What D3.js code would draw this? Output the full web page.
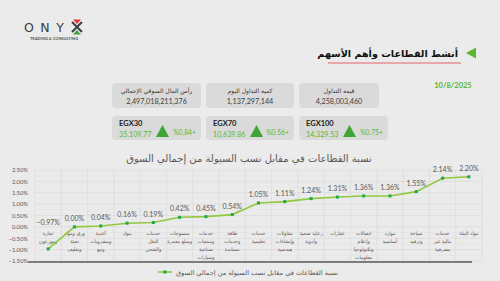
<!DOCTYPE html>
<html>
<head>
<meta charset="utf-8">
<script src="https://cdn.jsdelivr.net/npm/d3@7"></script>
<style>
  body { margin: 0; background: #ebebeb; }
  svg { display: block; font-family: Lato, "DejaVu Sans", sans-serif; }
</style>
</head>
<body>
<div id="chart"></div>
<script>
// sectors, left to right
const sectors = [
  ["تجارة", "وموزعون"],
  ["ورق ومواد", "تعبئة", "وتغليف"],
  ["أغذية", "ومشروبات", "وتبغ"],
  ["بنوك"],
  ["خدمات", "النقل", "والشحن"],
  ["منسوجات", "وسلع معمرة"],
  ["خدمات", "ومنتجات", "صناعية", "وسيارات"],
  ["طاقة", "وخدمات", "مساندة"],
  ["خدمات", "تعليمية"],
  ["مقاولات", "وإنشاءات", "هندسية"],
  ["رعاية صحية", "وأدوية"],
  ["عقارات"],
  ["اتصالات", "وإعلام", "وتكنولوجيا", "معلومات"],
  ["موارد", "أساسية"],
  ["سياحة", "وترفيه"],
  ["خدمات", "مالية غير", "مصرفية"],
  ["مواد البناء"]
];
const shares = [-0.97, 0.00, 0.04, 0.16, 0.19, 0.42, 0.45, 0.54, 1.05, 1.11, 1.24, 1.31, 1.36, 1.36, 1.55, 2.14, 2.20];
const yTicks = [-1.5, -1.0, -0.5, 0, 0.5, 1.0, 1.5, 2.0, 2.5];

const marketLabels = ["رأس المال السوقي الإجمالي", "كمية التداول اليوم", "قيمة التداول"];
const marketValues = ["2,497,018,211,376", "1,137,297,144", "4,258,003,460"];
const indexNames = ["EGX30", "EGX70", "EGX100"];
const indexValues = ["35,109.77", "10,639.86", "14,329.53"];
const indexChanges = ["%0.84+", "%0.56+", "%0.75+"];
const reportDate = "10/8/2025";

const W = 500, H = 281;
const green = "#5cb82e";
const svg = d3.select("#chart").append("svg").attr("width", W).attr("height", H);
svg.append("rect").attr("width", W).attr("height", H).attr("fill", "#ebebeb");

// logo
const logo = svg.append("g");
logo.append("text").attr("x", 24).attr("y", 32).attr("font-size", 12.5).attr("letter-spacing", 6.5)
  .attr("fill", "#3c3c3c").attr("font-family", "'DejaVu Sans'").text("ONY");
logo.append("path").attr("d", "M72,22 L82,32 M82,22 L72,32").attr("stroke", "#3c3c3c").attr("stroke-width", 2);
logo.append("path").attr("d", "M73,19.5 L81,19.5 L77,24 Z").attr("fill", "#e53935");
logo.append("path").attr("d", "M73,34.5 L81,34.5 L77,30 Z").attr("fill", "#43a047");
logo.append("text").attr("x", 54).attr("y", 40).attr("text-anchor", "middle").attr("font-size", 4)
  .attr("font-weight", "bold").attr("fill", "#555").text("TRADING & CONSULTING");

// header
svg.append("text").attr("x", 458).attr("y", 57).attr("text-anchor", "end").attr("font-size", 9.6)
  .attr("font-weight", "bold").attr("fill", "#111").attr("font-family", "'DejaVu Sans'")
  .text("أنشط القطاعات وأهم الأسهم");
svg.append("path").attr("d", "M466,53 L476,47.5 L476,58.5 Z").attr("fill", green);
svg.append("line").attr("x1", 328).attr("x2", 461).attr("y1", 63).attr("y2", 63)
  .attr("stroke", "#e0404a").attr("stroke-width", 0.8);

svg.append("text").attr("x", 453).attr("y", 88).attr("text-anchor", "middle").attr("font-size", 7.5)
  .attr("font-weight", "bold").attr("fill", green).text(reportDate);

// boxes
const boxX = [112, 206, 299];
const boxW = [89, 88, 80];
const boxW2 = [89, 88, 89];
marketLabels.forEach((lab, i) => {
  const g = svg.append("g").attr("transform", `translate(${boxX[i]},83)`);
  g.append("rect").attr("width", boxW[i]).attr("height", 25).attr("rx", 4).attr("fill", "#dadada");
  g.append("text").attr("x", boxW[i] / 2).attr("y", 10).attr("text-anchor", "middle").attr("font-size", 6)
    .attr("fill", "#333").attr("font-family", "'DejaVu Sans'").text(lab);
  g.append("text").attr("x", boxW[i] / 2).attr("y", 21).attr("text-anchor", "middle").attr("font-size", 7.2)
    .attr("fill", "#404040").text(marketValues[i]);
});
indexNames.forEach((nm, i) => {
  const g = svg.append("g").attr("transform", `translate(${boxX[i]},116)`);
  g.append("rect").attr("width", boxW2[i]).attr("height", 24).attr("rx", 4).attr("fill", "#dadada");
  g.append("text").attr("x", 7).attr("y", 10).attr("font-size", 7.5).attr("font-weight", "bold")
    .attr("fill", "#222").text(nm);
  g.append("text").attr("x", 7).attr("y", 21).attr("font-size", 7.2).attr("fill", green).text(indexValues[i]);
  g.append("path").attr("d", "M44,21 L50.5,9 L57,21 Z").attr("fill", "#3fa535");
  g.append("text").attr("x", boxW2[i] - 5).attr("y", 18.5).attr("text-anchor", "end").attr("font-size", 6.8)
    .attr("fill", green).text(indexChanges[i]);
});

// chart
const plot = { left: 35, right: 482, top: 170, bottom: 261 };
const x = d3.scaleBand().domain(d3.range(shares.length)).range([plot.left, plot.right]);
const y = d3.scaleLinear().domain([-1.5, 2.5]).range([plot.bottom, plot.top]);

svg.append("text").attr("x", 249).attr("y", 162).attr("text-anchor", "middle").attr("font-size", 10)
  .attr("fill", "#595959").attr("font-family", "'DejaVu Sans'").text("نسبة القطاعات في مقابل نسب السيولة من إجمالي السوق");

const grid = svg.append("g");
grid.selectAll(".minor").data(d3.range(-1.25, 2.5, 0.5)).join("line")
  .attr("x1", plot.left).attr("x2", plot.right).attr("y1", d => y(d)).attr("y2", d => y(d))
  .attr("stroke", "#e0e0e0").attr("stroke-width", 0.5);
grid.selectAll(".major").data(yTicks).join("line")
  .attr("x1", plot.left).attr("x2", plot.right).attr("y1", d => y(d)).attr("y2", d => y(d))
  .attr("stroke", "#d6d6d6").attr("stroke-width", 0.6);
grid.selectAll(".vert").data(d3.range(shares.length + 1)).join("line")
  .attr("x1", d => plot.left + d * x.step()).attr("x2", d => plot.left + d * x.step())
  .attr("y1", plot.top).attr("y2", plot.bottom)
  .attr("stroke", "#d6d6d6").attr("stroke-width", 0.6);

const yAxis = d3.axisLeft(y).tickValues(yTicks).tickSize(0).tickFormat(d => d3.format(".2f")(d) + "%");
const ya = svg.append("g").attr("transform", `translate(${plot.left - 4},0)`).call(yAxis);
ya.select(".domain").remove();
ya.selectAll("text").attr("font-size", 5.8).attr("fill", "#595959").attr("font-family", "Lato");

svg.append("line").attr("x1", 28).attr("x2", 472).attr("y1", plot.bottom + 1).attr("y2", plot.bottom + 1)
  .attr("stroke", "#595959").attr("stroke-width", 1.6);

// category labels
const cat = svg.append("g");
sectors.forEach((lines, i) => {
  const t = cat.append("text").attr("text-anchor", "middle").attr("font-size", 4.8)
    .attr("fill", "#595959").attr("font-family", "'DejaVu Sans'");
  lines.forEach((ln, j) => {
    t.append("tspan").attr("x", x(i) + x.bandwidth() / 2).attr("y", y(0) + 8.5 + j * 8).text(ln);
  });
});

const cx = (d, i) => x(i) + x.bandwidth() / 2;
svg.append("path").datum(shares)
  .attr("d", d3.line().x(cx).y(d => y(d)))
  .attr("fill", "none").attr("stroke", "#92c83e").attr("stroke-width", 1.6);
svg.selectAll(".pt").data(shares).join("rect")
  .attr("x", (d, i) => cx(d, i) - 1.5).attr("y", d => y(d) - 1.5)
  .attr("width", 3).attr("height", 3).attr("fill", "#1fa64a");
svg.selectAll(".lbl").data(shares).join("text")
  .attr("x", cx).attr("y", d => Math.min(y(d) - 6, y(0) - 2))
  .attr("text-anchor", "middle").attr("font-size", 7).attr("fill", "#595959")
  .text(d => d3.format(".2f")(d) + "%");

// legend
const lg = svg.append("g").attr("transform", "translate(0,272)");
lg.append("line").attr("x1", 158).attr("x2", 172).attr("y1", 0).attr("y2", 0).attr("stroke", "#92c83e").attr("stroke-width", 1.6);
lg.append("rect").attr("x", 163.5).attr("y", -1.5).attr("width", 3).attr("height", 3).attr("fill", "#1fa64a");
lg.append("text").attr("x", 176).attr("y", 2.5).attr("font-size", 6.6).attr("fill", "#595959")
  .attr("font-family", "'DejaVu Sans'").text("نسبة القطاعات في مقابل نسب السيولة من إجمالي السوق");
</script>
</body>
</html>
